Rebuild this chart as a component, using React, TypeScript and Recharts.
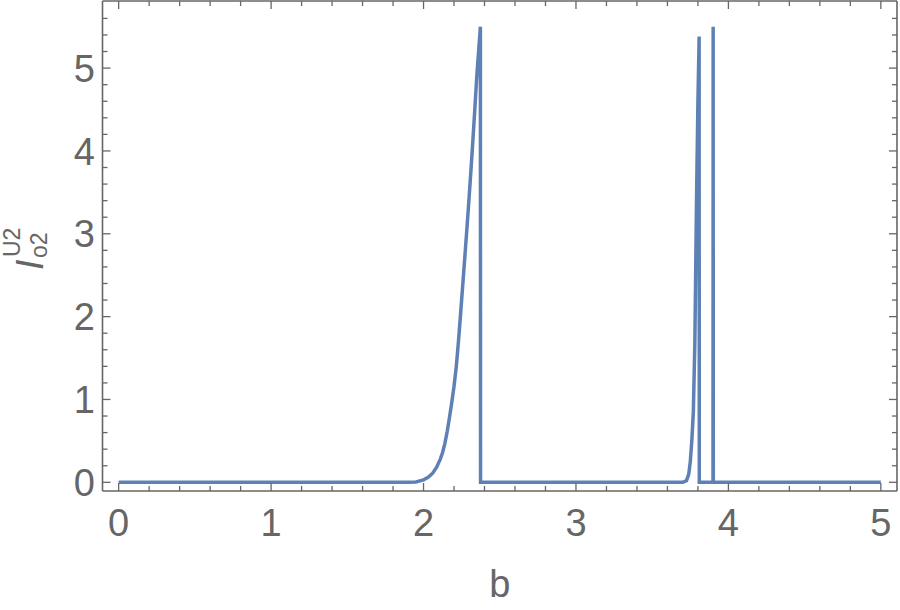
import { LineChart, Line, XAxis, YAxis } from "recharts";

// b values along the curve and the matching I values
const bValues = [
  0, 1.9, 1.95, 2.0, 2.03, 2.06, 2.085, 2.11, 2.125, 2.14, 2.155, 2.17, 2.185, 2.2, 2.215, 2.23,
  2.245, 2.26, 2.275, 2.29, 2.305, 2.32, 2.335, 2.35, 2.362, 2.373, 2.374,
  3.7, 3.725, 3.74, 3.75, 3.76, 3.77, 3.78, 3.79, 3.8, 3.808, 3.809,
  3.899, 3.9, 3.901, 5,
];
const iValues = [
  0, 0, 0.004, 0.03, 0.06, 0.11, 0.18, 0.28, 0.36, 0.47, 0.61, 0.78, 0.96, 1.16, 1.4, 1.72,
  2.08, 2.45, 2.82, 3.2, 3.6, 4.02, 4.46, 4.92, 5.22, 5.5, 0,
  0, 0.02, 0.1, 0.25, 0.5, 0.85, 1.7, 3.3, 4.6, 5.38, 0,
  0, 5.5, 0, 0,
];

const xTicks = [
  0, 0.2, 0.4, 0.6, 0.8, 1, 1.2, 1.4, 1.6, 1.8, 2, 2.2, 2.4, 2.6, 2.8, 3,
  3.2, 3.4, 3.6, 3.8, 4, 4.2, 4.4, 4.6, 4.8, 5,
];
const yTicks = [
  0, 0.2, 0.4, 0.6, 0.8, 1, 1.2, 1.4, 1.6, 1.8, 2, 2.2, 2.4, 2.6, 2.8, 3,
  3.2, 3.4, 3.6, 3.8, 4, 4.2, 4.4, 4.6, 4.8, 5, 5.2, 5.4, 5.6,
];

const data = bValues.map((b, i) => ({ b, I: iValues[i] }));

const GRAY = "#666666";
const FONT = "'Liberation Sans', Arial, sans-serif";
const xDomain = [-0.106, 5.106];
const yDomain = [-0.105, 5.81];

const tickLen = (v: number) => (Number.isInteger(v) ? 8 : 5);

const BottomTick = ({ x, y, payload }: any) => {
  const v = payload.value;
  return (
    <g>
      <line x1={x} x2={x} y1={y} y2={y - tickLen(v)} stroke={GRAY} strokeWidth={1.3} />
      {Number.isInteger(v) && (
        <text x={x} y={y + 45} textAnchor="middle" fill={GRAY} fontSize={38} fontFamily={FONT}>
          {v}
        </text>
      )}
    </g>
  );
};

const TopTick = ({ x, y, payload }: any) => (
  <line x1={x} x2={x} y1={y} y2={y + tickLen(payload.value)} stroke={GRAY} strokeWidth={1.3} />
);

const LeftTick = ({ x, y, payload }: any) => {
  const v = payload.value;
  return (
    <g>
      <line x1={x} x2={x + tickLen(v)} y1={y} y2={y} stroke={GRAY} strokeWidth={1.3} />
      {Number.isInteger(v) && (
        <text x={x - 7.5} y={y} dy="0.36em" textAnchor="end" fill={GRAY} fontSize={38} fontFamily={FONT}>
          {v}
        </text>
      )}
    </g>
  );
};

const RightTick = ({ x, y, payload }: any) => (
  <line x1={x} x2={x - tickLen(payload.value)} y1={y} y2={y} stroke={GRAY} strokeWidth={1.3} />
);

const XLabel = (props: any) => {
  const vb = props.viewBox;
  return (
    <text x={vb.x + vb.width / 2} y={vb.y + 106} textAnchor="middle" fill={GRAY} fontSize={38} fontFamily={FONT}>
      b
    </text>
  );
};

const YLabel = (props: any) => {
  const vb = props.viewBox;
  const cx = vb.x + 43;
  const cy = vb.y + vb.height / 2 + 24;
  return (
    <g transform={`translate(${cx},${cy}) rotate(-90)`} fill={GRAY} fontFamily={FONT}>
      <text x={0} y={0} fontSize={38} fontStyle="italic">I</text>
      <text x={13} y={-23} fontSize={23}>U2</text>
      <text x={12} y={4} fontSize={23}>o2</text>
    </g>
  );
};

export default function App() {
  return (
    <div style={{ position: "absolute", left: 0, top: 0, background: "#fff" }}>
      <LineChart width={900} height={610} data={data} margin={{ top: 0, right: 0, bottom: 0, left: 0 }}>
        <XAxis
          xAxisId="b"
          dataKey="b"
          type="number"
          domain={xDomain}
          allowDataOverflow
          ticks={xTicks}
          interval={0}
          height={119}
          tickSize={0}
          tickMargin={0}
          tickLine={false}
          tick={BottomTick}
          axisLine={{ stroke: GRAY, strokeWidth: 1.6 }}
          label={XLabel}
        />
        <XAxis
          xAxisId="t"
          orientation="top"
          dataKey="b"
          type="number"
          domain={xDomain}
          allowDataOverflow
          ticks={xTicks}
          interval={0}
          height={1}
          tickSize={0}
          tickMargin={0}
          tickLine={false}
          tick={TopTick}
          axisLine={{ stroke: GRAY, strokeWidth: 1.6 }}
        />
        <YAxis
          yAxisId="l"
          type="number"
          domain={yDomain}
          allowDataOverflow
          ticks={yTicks}
          interval={0}
          width={102.5}
          tickSize={0}
          tickMargin={0}
          tickLine={false}
          tick={LeftTick}
          axisLine={{ stroke: GRAY, strokeWidth: 1.6 }}
          label={YLabel}
        />
        <YAxis
          yAxisId="r"
          orientation="right"
          type="number"
          domain={yDomain}
          allowDataOverflow
          ticks={yTicks}
          interval={0}
          width={3}
          tickSize={0}
          tickMargin={0}
          tickLine={false}
          tick={RightTick}
          axisLine={{ stroke: GRAY, strokeWidth: 1.6 }}
        />
        <Line
          xAxisId="b"
          yAxisId="l"
          type="linear"
          dataKey="I"
          stroke="#5E81B5"
          strokeWidth={3.5}
          dot={false}
          isAnimationActive={false}
        />
      </LineChart>
    </div>
  );
}
